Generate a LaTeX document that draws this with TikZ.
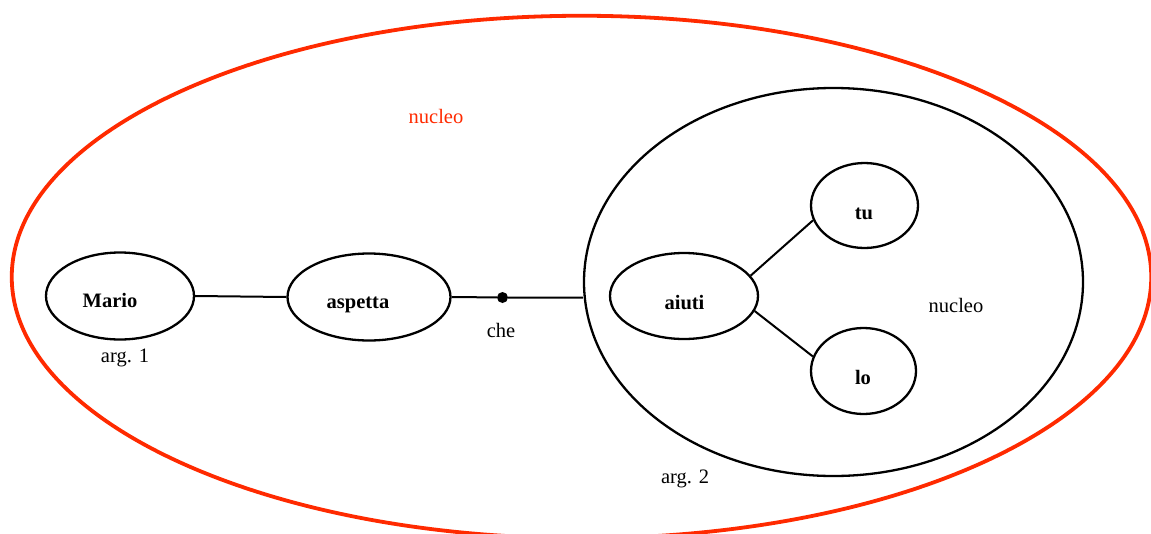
\documentclass[tikz,border=0pt]{standalone}
\usepackage{fontspec}
\setmainfont{Liberation Serif}
\usetikzlibrary{shapes.geometric}
\definecolor{nucleored}{RGB}{255,42,0}
\begin{document}
\begin{tikzpicture}[x=1pt,y=-1pt,
  word/.style={font=\fontsize{20.5}{24}\selectfont\bfseries, anchor=base, inner sep=0pt},
  note/.style={font=\fontsize{20.5}{24}\selectfont, anchor=base, inner sep=0pt},
  oval/.style={ellipse, draw, line width=2.3pt, inner sep=0pt},
  link/.style={line width=2pt},
  point/.style={circle, fill, inner sep=0pt, minimum size=11pt}]
\useasboundingbox (0,0) rectangle (1151,533);

% outer nucleus
\node[ellipse, draw=nucleored, line width=3.8pt, inner sep=0pt,
      minimum width=1139.5pt, minimum height=522.5pt] (outer) at (581.5,277) {};
\node[note, text=nucleored] (outer-t) at (436,123) {nucleo};

% first level
\node[oval, minimum width=148pt, minimum height=87pt] (mario) at (120,296) {};
\node[word] (mario-t) at (110,307) {Mario};
\node[note] (arg1) at (125,362) {arg. 1};

\node[oval, minimum width=163pt, minimum height=87pt] (aspetta) at (369,297) {};
\node[word] (aspetta-t) at (358,308) {aspetta};

\node[point] (dot) at (502.5,297.5) {};
\node[note] (che) at (501,337) {che};

% embedded nucleus
\node[oval, minimum width=499pt, minimum height=388pt] (inner) at (833.5,282) {};
\node[note] (inner-t) at (956,312) {nucleo};
\node[note] (arg2) at (685,483) {arg. 2};

\node[oval, minimum width=148pt, minimum height=86pt] (aiuti) at (684,296) {};
\node[word] (aiuti-t) at (684.5,309) {aiuti};

\node[oval, minimum width=107pt, minimum height=85pt] (tu) at (864.5,205.5) {};
\node[word] (tu-t) at (864,219) {tu};

\node[oval, minimum width=105pt, minimum height=86pt] (lo) at (863.5,371) {};
\node[word] (lo-t) at (863,384) {lo};

% connectors
\draw[link] (mario.east) -- (aspetta.west);
\draw[link] (aspetta.east) -- (dot) -- (inner.west |- dot);
\draw[link] (aiuti.17) -- (tu.196);
\draw[link] (aiuti.-12) -- (lo.164);
\end{tikzpicture}
\end{document}
